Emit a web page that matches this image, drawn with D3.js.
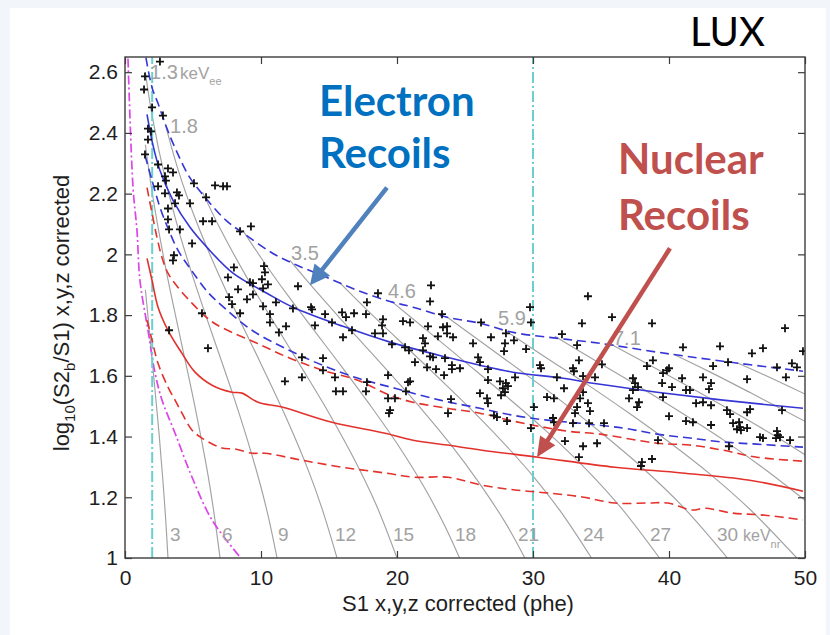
<!DOCTYPE html>
<html>
<head>
<meta charset="utf-8">
<script src="https://cdn.jsdelivr.net/npm/d3@7"></script>
<style>
  html, body { margin: 0; padding: 0; background: #f2f5f9; }
  svg { display: block; }
</style>
</head>
<body>
<svg id="chart" width="830" height="635"></svg>
<script>
// ---------- axis values ----------
const s1Domain = [0, 50];
const ratioDomain = [1, 2.65];
const s1Ticks = [0, 10, 20, 30, 40, 50];
const ratioTicks = [1, 1.2, 1.4, 1.6, 1.8, 2, 2.2, 2.4, 2.6];

// ---------- band curves: [S1 (phe), log10(S2b/S1)] ----------
const erMedian = [[1.62,2.461],[2.06,2.359],[2.57,2.276],[3.53,2.178],[4.78,2.089],[6.03,2.023],[7.94,1.938],[10.44,1.872],[12.35,1.826],[16.03,1.763],[19.49,1.711],[23.68,1.661],[26.10,1.635],[28.53,1.612],[32.21,1.592],[34.93,1.572],[39.12,1.546],[43.97,1.520],[49.85,1.493]];
const erUpper = [[1.54,2.648],[1.99,2.549],[2.43,2.497],[3.09,2.414],[3.60,2.359],[4.71,2.257],[5.96,2.184],[7.43,2.112],[8.82,2.066],[10.88,2.003],[12.65,1.964],[14.85,1.924],[17.06,1.882],[19.49,1.845],[21.18,1.826],[23.68,1.793],[26.10,1.773],[28.53,1.743],[32.50,1.720],[34.93,1.707],[39.12,1.678],[43.97,1.648],[49.85,1.615]];
const erLower = [[1.47,2.326],[1.99,2.243],[2.57,2.155],[3.16,2.086],[3.90,2.013],[4.78,1.954],[6.10,1.875],[7.35,1.822],[9.34,1.750],[11.76,1.691],[14.19,1.641],[16.91,1.595],[19.85,1.559],[23.16,1.520],[26.10,1.493],[28.53,1.470],[31.03,1.454],[33.46,1.444],[36.62,1.428],[39.12,1.408],[41.54,1.395],[43.97,1.382],[46.47,1.375],[49.85,1.365]];
const nrMedian = [[1.62,1.987],[1.99,1.914],[2.43,1.826],[3.16,1.750],[4.19,1.674],[5.15,1.612],[6.40,1.569],[7.87,1.546],[8.60,1.543],[9.78,1.513],[11.54,1.497],[15.22,1.447],[19.12,1.411],[21.18,1.388],[23.68,1.372],[26.25,1.355],[30.37,1.332],[36.03,1.299],[40.96,1.280],[45.81,1.257],[49.85,1.220]];
const nrUpper = [[1.62,2.220],[1.99,2.135],[2.35,2.056],[2.72,1.990],[3.16,1.938],[3.90,1.891],[4.93,1.839],[6.25,1.783],[7.21,1.757],[9.71,1.707],[12.13,1.658],[14.56,1.618],[17.06,1.586],[19.49,1.536],[21.18,1.513],[23.68,1.493],[26.10,1.477],[28.53,1.451],[32.50,1.418],[34.93,1.408],[39.12,1.378],[41.54,1.372],[43.97,1.355],[46.47,1.332],[49.85,1.319]];
const nrLower = [[1.62,1.783],[1.99,1.717],[2.43,1.641],[3.16,1.563],[3.68,1.520],[4.19,1.477],[4.93,1.421],[5.66,1.395],[7.13,1.362],[8.09,1.359],[9.34,1.345],[10.29,1.345],[13.01,1.322],[15.96,1.299],[19.12,1.280],[21.32,1.266],[23.75,1.266],[26.25,1.240],[28.68,1.224],[31.10,1.214],[33.60,1.201],[36.03,1.181],[38.46,1.181],[39.93,1.181],[41.69,1.158],[42.65,1.164],[44.63,1.148],[47.06,1.141],[49.85,1.125]];
const s2Threshold = [[0.22,2.645],[0.59,2.220],[0.88,2.079],[1.10,1.914],[1.69,1.750],[2.21,1.609],[2.72,1.520],[3.68,1.411],[4.93,1.266],[6.40,1.125],[8.46,1.003]];
const s1Window = [2, 30];

// ---------- constant-energy contours ----------
const contourNr = [3, 6, 9, 12, 15, 18, 21, 24, 27, 30, 33, 36, 39, 42, 45];
const contourPaths = [
  [[1.5,1.883],[2.0,1.651],[2.5,1.412],[2.8,1.248],[3.0,1.121],[3.16,1.0]],
  [[1.5,2.361],[2,2.203],[3,1.953],[4,1.739],[5,1.530],[6,1.299],[6.5,1.161],[6.99,1.0]],
  [[1.5,2.599],[2,2.455],[3,2.240],[4,2.071],[5,1.925],[6,1.791],[7,1.661],[8,1.530],[9,1.389],[10,1.233],[10.6,1.124],[11.18,1.0]],
  [[2.95,2.43],[4,2.265],[5,2.137],[6,2.025],[8,1.825],[10,1.639],[12,1.447],[13.5,1.286],[14.5,1.161],[15.59,1.0]],
  [[5.7,2.205],[7,2.084],[9,1.921],[11,1.772],[13,1.626],[15,1.477],[17,1.313],[18.5,1.172],[20.0,1.0]],
  [[8.65,2.08],[10,1.989],[12,1.863],[14,1.744],[16,1.626],[18,1.505],[20,1.377],[22,1.233],[23.5,1.107],[24.6,1.0]],
  [[12.13,1.98],[14,1.881],[16,1.780],[18,1.681],[20,1.582],[22,1.480],[24,1.371],[26,1.250],[28,1.114],[29.4,1.0]],
  [[15.8,1.906],[18,1.808],[20,1.723],[22,1.639],[24,1.553],[26,1.465],[28,1.371],[30,1.270],[32,1.155],[34.3,1.0]],
  [[19.6,1.845],[22,1.757],[25,1.646],[28,1.534],[31,1.417],[34,1.288],[36.5,1.164],[39.3,1.0]],
  [[23.7,1.793],[26,1.718],[29,1.620],[32,1.520],[35,1.413],[38,1.299],[41,1.170],[44.3,1.0]],
  [[28,1.748],[31,1.659],[34,1.571],[37,1.479],[40,1.382],[43,1.277],[46,1.158],[49.4,1.0]],
  [[31.6,1.730],[35,1.639],[38,1.559],[41,1.476],[44,1.389],[47,1.294],[50,1.190]],
  [[35.8,1.702],[39,1.625],[42,1.551],[45,1.475],[48,1.396],[50,1.340]],
  [[40.3,1.672],[43,1.613],[46,1.544],[50,1.450]],
  [[45,1.643],[47.5,1.593],[50,1.540]]
];
// contour labels: text, S1, log10 ratio of the label's left baseline
const keVeeLabels = [["1.3",1.84,2.579],["1.8",3.31,2.401],["3.5",12.21,1.980],["4.6",19.34,1.855],["5.9",27.43,1.766],["7.1",35.88,1.701]];
const keVnrLabels = [["3",3.31],["6",7.13],["9",11.25],["12",15.44],["15",19.7],["18",24.26],["21",28.9],["24",33.68],["27",38.6],["30",43.53]];
const keVnrLabelLevel = 1.056;

// ---------- calibration events ----------
const events = [
[2.57,2.635],[1.47,2.586],[1.40,2.543],[1.99,2.484],[2.79,2.457],[1.69,2.414],[1.91,2.405],[1.69,2.378],[1.47,2.329],[2.43,2.296],[3.16,2.283],[3.53,2.270],[2.94,2.257],[3.01,2.243],[5.07,2.234],[6.62,2.227],[7.21,2.224],[7.50,2.224],[2.43,2.224],[3.82,2.204],[3.97,2.194],[2.94,2.201],[3.68,2.168],[4.78,2.168],[5.96,2.188],[3.16,2.151],[3.16,2.115],[5.74,2.109],[6.40,2.109],[3.24,2.082],[4.04,2.082],[8.46,2.076],[9.26,2.092],[4.93,2.036],[3.60,1.997],[3.53,1.980],
[8.01,1.957],[10.22,1.961],[10.29,1.941],[7.57,1.924],[9.19,1.908],[9.41,1.905],[10.07,1.918],[10.51,1.901],[8.31,1.885],[10.15,1.888],[9.41,1.868],[7.65,1.859],[8.97,1.852],[12.72,1.895],[7.87,1.836],[11.10,1.842],[10.15,1.829],[12.35,1.822],[13.68,1.826],[13.75,1.819],[8.46,1.806],[10.66,1.803],[14.71,1.803],[15.96,1.809],[16.25,1.793],[16.84,1.806],[17.79,1.842],[18.60,1.872],[17.72,1.803],[18.97,1.786],[18.90,1.766],[10.66,1.776],[15.22,1.776],[11.84,1.763],[13.97,1.766],[11.32,1.743],[16.69,1.750],[16.03,1.727],[18.38,1.740],[18.97,1.740],[5.66,1.806],[6.10,1.691],[3.24,1.750],[13.01,1.661],[14.56,1.658],[14.56,1.618],[15.44,1.595],[13.01,1.595],[11.76,1.582],[17.79,1.579],[15.51,1.549],[16.03,1.549],[17.72,1.549],[19.34,1.602],[19.41,1.477],[19.34,1.526],[19.85,1.526],[20.81,1.579],[20.59,1.694],[19.63,1.704],[20.96,1.776],
[22.50,1.898],[22.43,1.845],[20.44,1.780],[23.31,1.803],[22.28,1.763],[23.38,1.760],[23.68,1.763],[26.18,1.776],[20.88,1.684],[21.91,1.724],[22.06,1.707],[21.91,1.684],[23.01,1.730],[23.68,1.740],[24.12,1.727],[25.59,1.707],[26.91,1.727],[28.01,1.740],[27.94,1.707],[27.87,1.681],[28.60,1.717],[29.49,1.688],[22.43,1.664],[22.65,1.661],[21.32,1.645],[23.53,1.658],[25.96,1.661],[26.10,1.645],[24.04,1.635],[24.04,1.622],[22.21,1.628],[22.87,1.622],[24.63,1.625],[23.46,1.602],[26.69,1.622],[26.69,1.586],[28.68,1.595],[27.57,1.582],[28.01,1.576],[28.16,1.566],[27.79,1.559],[27.94,1.546],[27.65,1.536],[20.96,1.582],[20.66,1.549],[26.10,1.543],[29.78,1.826],[29.85,1.776],[34.04,1.862],[33.60,1.773],[32.13,1.737],[33.24,1.701],[30.51,1.635],[30.59,1.625],[31.76,1.595],[33.38,1.651],[32.94,1.625],[33.01,1.615],[33.68,1.599],[32.28,1.559],[31.03,1.530],[31.54,1.526],[26.62,1.526],[26.69,1.510],[33.68,1.546],[33.46,1.526],[33.24,1.497],[33.09,1.477],[34.19,1.484],[34.04,1.510],[23.97,1.523],[19.49,1.487],[23.75,1.477],[27.13,1.470],[27.35,1.464],[28.09,1.451],[30.07,1.497],[29.85,1.428],[31.47,1.461],[31.54,1.447],[32.94,1.444],[32.35,1.385],[33.68,1.368],[33.38,1.332],[34.71,1.378],[34.12,1.444],
[35.81,1.793],[38.75,1.773],[41.03,1.694],[43.75,1.697],[46.91,1.691],[48.53,1.757],[49.85,1.681],[46.10,1.674],[38.82,1.651],[38.38,1.632],[39.56,1.609],[39.85,1.618],[40.00,1.625],[44.34,1.645],[43.24,1.632],[47.94,1.628],[49.04,1.641],[49.41,1.628],[48.60,1.595],[45.74,1.589],[40.96,1.592],[39.49,1.576],[40.22,1.563],[42.50,1.595],[43.09,1.576],[42.94,1.556],[37.35,1.592],[37.50,1.576],[37.72,1.563],[37.35,1.553],[35.07,1.638],[34.56,1.595],[41.25,1.553],[41.54,1.553],[37.06,1.526],[39.56,1.530],[37.79,1.513],[37.65,1.497],[41.99,1.510],[42.50,1.513],[43.09,1.503],[44.26,1.487],[44.49,1.474],[45.74,1.480],[45.96,1.490],[48.31,1.487],[40.00,1.467],[41.25,1.451],[41.76,1.447],[43.09,1.438],[44.71,1.444],[45.15,1.447],[45.22,1.431],[45.00,1.424],[45.29,1.421],[45.74,1.428],[35.22,1.444],[46.69,1.398],[46.91,1.395],[47.94,1.418],[48.01,1.405],[48.16,1.398],[47.87,1.395],[48.90,1.388],[39.19,1.388],[44.41,1.368],[38.01,1.316],[37.94,1.303],[38.75,1.326]
];

// ---------- drawing ----------
const svg = d3.select("#chart");
svg.append("rect").attr("width", 830).attr("height", 635).attr("fill", "#f2f5f9");
svg.append("rect").attr("x", 10).attr("y", 8).attr("width", 816).attr("height", 627).attr("fill", "#ffffff");

const x = d3.scaleLinear().domain(s1Domain).range([125, 805]);
const y = d3.scaleLinear().domain(ratioDomain).range([558, 57]);
const axisFont = "'Liberation Sans', Arial, Helvetica, sans-serif";
const calloutFont = "Lato, 'Open Sans', sans-serif";

svg.append("clipPath").attr("id", "plotClip")
  .append("rect")
  .attr("x", x(s1Domain[0])).attr("y", y(ratioDomain[1]))
  .attr("width", x(s1Domain[1]) - x(s1Domain[0]))
  .attr("height", y(ratioDomain[0]) - y(ratioDomain[1]));

const plot = svg.append("g").attr("clip-path", "url(#plotClip)");
const curve = d3.line().x(d => x(d[0])).y(d => y(d[1])).curve(d3.curveCatmullRom.alpha(0.5));

// energy contours
plot.append("g").selectAll("path").data(contourPaths).join("path")
  .attr("d", curve).attr("fill", "none")
  .attr("stroke", "#a2a2a2").attr("stroke-width", 1.15);

// S2 threshold
plot.append("path").attr("d", curve(s2Threshold)).attr("fill", "none")
  .attr("stroke", "#dc45e6").attr("stroke-width", 1.7)
  .attr("stroke-dasharray", "9,3,2,3");

// S1 analysis window
plot.append("g").selectAll("line").data(s1Window).join("line")
  .attr("x1", d => x(d)).attr("x2", d => x(d))
  .attr("y1", y(ratioDomain[0])).attr("y2", y(ratioDomain[1]))
  .attr("stroke", "#6ccfcf").attr("stroke-width", 2)
  .attr("stroke-dasharray", "11,3,2,3");

// nuclear recoil band
const red = "#e3322c";
plot.append("path").attr("d", curve(nrUpper)).attr("fill", "none").attr("stroke", red).attr("stroke-width", 1.6).attr("stroke-dasharray", "9,5");
plot.append("path").attr("d", curve(nrLower)).attr("fill", "none").attr("stroke", red).attr("stroke-width", 1.6).attr("stroke-dasharray", "9,5");
plot.append("path").attr("d", curve(nrMedian)).attr("fill", "none").attr("stroke", red).attr("stroke-width", 1.6);

// electron recoil band
const blue = "#3636d6";
plot.append("path").attr("d", curve(erUpper)).attr("fill", "none").attr("stroke", blue).attr("stroke-width", 1.6).attr("stroke-dasharray", "9,5");
plot.append("path").attr("d", curve(erLower)).attr("fill", "none").attr("stroke", blue).attr("stroke-width", 1.6).attr("stroke-dasharray", "9,5");
plot.append("path").attr("d", curve(erMedian)).attr("fill", "none").attr("stroke", blue).attr("stroke-width", 1.6);

// events
plot.append("g").selectAll("path").data(events).join("path")
  .attr("transform", d => `translate(${x(d[0])},${y(d[1])})`)
  .attr("d", "M-4,0H4M0,-4V4")
  .attr("stroke", "#111").attr("stroke-width", 1.8).attr("fill", "none");

// contour labels (keVee near the top ends)
const labelGrey = "#a2a2a2";
const ee = svg.append("g").attr("font-family", axisFont).attr("fill", labelGrey);
ee.selectAll("text").data(keVeeLabels).join("text")
  .attr("x", d => x(d[1])).attr("y", d => y(d[2]))
  .attr("font-size", 20)
  .text(d => d[0]);
// unit after the first keVee label
{
  const first = keVeeLabels[0];
  const t = ee.append("text").attr("x", x(first[1]) + 30).attr("y", y(first[2])).attr("font-size", 17);
  t.append("tspan").text("keV");
  t.append("tspan").attr("font-size", 11).attr("dy", 6).text("ee");
}

// contour labels (keVnr at the bottom ends)
const nr = svg.append("g").attr("font-family", axisFont).attr("fill", labelGrey);
nr.selectAll("text").data(keVnrLabels).join("text")
  .attr("x", d => x(d[1])).attr("y", y(keVnrLabelLevel))
  .attr("font-size", 19)
  .text(d => d[0]);
{
  const last = keVnrLabels[keVnrLabels.length - 1];
  const t = nr.append("text").attr("x", x(last[1]) + 26).attr("y", y(keVnrLabelLevel)).attr("font-size", 16);
  t.append("tspan").text("keV");
  t.append("tspan").attr("font-size", 11).attr("dy", 7).text("nr");
}

// axes
const axisColor = "#3c3c3c";
const gBottom = svg.append("g").attr("transform", `translate(0,${y(ratioDomain[0])})`)
  .call(d3.axisBottom(x).tickValues(s1Ticks).tickSizeInner(-7).tickSizeOuter(0).tickPadding(12));
const gTop = svg.append("g").attr("transform", `translate(0,${y(ratioDomain[1])})`)
  .call(d3.axisTop(x).tickValues(s1Ticks).tickSizeInner(-7).tickSizeOuter(0).tickFormat(""));
const gLeft = svg.append("g").attr("transform", `translate(${x(s1Domain[0])},0)`)
  .call(d3.axisLeft(y).tickValues(ratioTicks).tickSizeInner(-7).tickSizeOuter(0).tickPadding(7).tickFormat(d3.format(".1~f")));
const gRight = svg.append("g").attr("transform", `translate(${x(s1Domain[1])},0)`)
  .call(d3.axisRight(y).tickValues(ratioTicks).tickSizeInner(-7).tickSizeOuter(0).tickFormat(""));
[gBottom, gTop, gLeft, gRight].forEach(g => {
  g.select(".domain").remove();
  g.selectAll(".tick line").attr("stroke", axisColor).attr("stroke-width", 1.2);
  g.selectAll(".tick text").attr("font-family", axisFont).attr("font-size", 21).attr("fill", "#1e1e1e");
});
svg.append("rect")
  .attr("x", x(s1Domain[0])).attr("y", y(ratioDomain[1]))
  .attr("width", x(s1Domain[1]) - x(s1Domain[0]))
  .attr("height", y(ratioDomain[0]) - y(ratioDomain[1]))
  .attr("fill", "none").attr("stroke", axisColor).attr("stroke-width", 1.4);

// axis titles
svg.append("text")
  .attr("x", 458).attr("y", 611)
  .attr("text-anchor", "middle")
  .attr("font-family", axisFont).attr("font-size", 22).attr("fill", "#1e1e1e")
  .text("S1 x,y,z corrected (phe)");
{
  const t = svg.append("text")
    .attr("transform", "translate(69,313) rotate(-90)")
    .attr("text-anchor", "middle")
    .attr("font-family", axisFont).attr("font-size", 22).attr("fill", "#1e1e1e");
  t.append("tspan").text("log");
  t.append("tspan").attr("font-size", 15).attr("dy", 6).text("10");
  t.append("tspan").attr("dy", -6).text("(S2");
  t.append("tspan").attr("font-size", 15).attr("dy", 6).text("b");
  t.append("tspan").attr("dy", -6).text("/S1) x,y,z corrected");
}

// experiment tag
svg.append("text").attr("x", 690).attr("y", 46)
  .attr("font-family", calloutFont).attr("font-size", 40).attr("fill", "#000")
  .text("LUX");

// call-outs
function arrow(from, to, color, width, headLen, headWidth) {
  const p0 = [x(from[0]), y(from[1])];
  const p1 = [x(to[0]), y(to[1])];
  const dx = p1[0] - p0[0], dy = p1[1] - p0[1];
  const len = Math.hypot(dx, dy);
  const ux = dx / len, uy = dy / len;
  const bx = p1[0] - ux * headLen, by = p1[1] - uy * headLen;
  svg.append("line").attr("x1", p0[0]).attr("y1", p0[1]).attr("x2", bx + ux * 2).attr("y2", by + uy * 2)
    .attr("stroke", color).attr("stroke-width", width);
  svg.append("polygon")
    .attr("points", [[p1[0], p1[1]], [bx - uy * headWidth / 2, by + ux * headWidth / 2], [bx + uy * headWidth / 2, by - ux * headWidth / 2]].map(p => p.join(",")).join(" "))
    .attr("fill", color);
}

const erColor = "#0070c0";
const nrColor = "#c0504d";
const erText = svg.append("g").attr("font-family", calloutFont).attr("font-weight", 700).attr("font-size", 42).attr("fill", erColor);
erText.append("text").attr("x", x(14.26)).attr("y", y(2.457)).text("Electron");
erText.append("text").attr("x", x(14.26)).attr("y", y(2.283)).text("Recoils");
arrow([19.26, 2.22], [13.6, 1.898], "#4f81bd", 4.5, 20, 20);

const nrText = svg.append("g").attr("font-family", calloutFont).attr("font-weight", 700).attr("font-size", 42).attr("fill", nrColor);
nrText.append("text").attr("x", x(36.25)).attr("y", y(2.266)).text("Nuclear");
nrText.append("text").attr("x", x(36.25)).attr("y", y(2.079)).text("Recoils");
arrow([40.07, 2.02], [30.29, 1.332], nrColor, 4.5, 20, 18);
</script>
</body>
</html>
